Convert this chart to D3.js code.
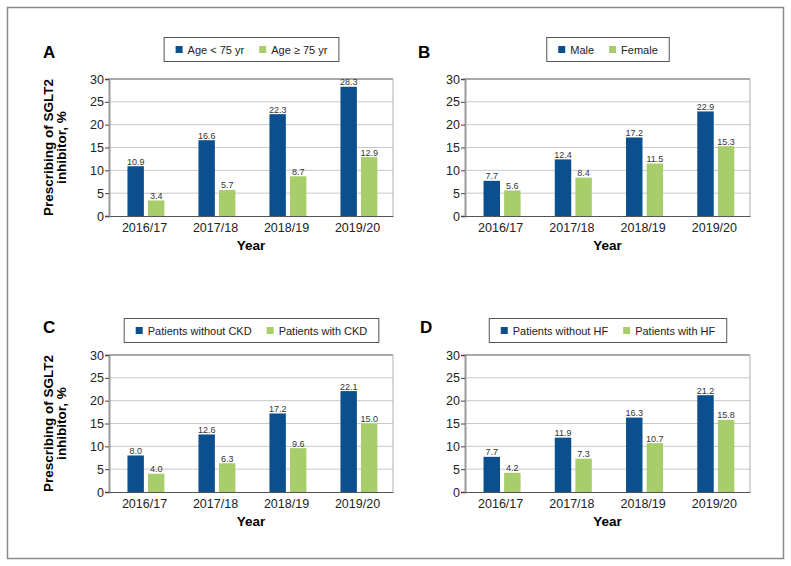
<!DOCTYPE html>
<html><head><meta charset="utf-8">
<script src="https://cdn.jsdelivr.net/npm/d3@7/dist/d3.min.js"></script>
<style>body{margin:0;background:#fff}svg{display:block;font-family:"Liberation Sans",Arial,sans-serif}</style>
</head><body><svg id="c" width="791" height="566"></svg>
<script>
const categories = ["2016/17","2017/18","2018/19","2019/20"];
const yTicks = [0,5,10,15,20,25,30];
const ageUnder75 = [10.9,16.6,22.3,28.3];
const age75plus = [3.4,5.7,8.7,12.9];
const male = [7.7,12.4,17.2,22.9];
const female = [5.6,8.4,11.5,15.3];
const withoutCKD = [8.0,12.6,17.2,22.1];
const withCKD = [4.0,6.3,9.6,15.0];
const withoutHF = [7.7,11.9,16.3,21.2];
const withHF = [4.2,7.3,10.7,15.8];
const panelLetters = ["A","B","C","D"];
const legendLabels = [["Age < 75 yr","Age \u2265 75 yr"],["Male","Female"],["Patients without CKD","Patients with CKD"],["Patients without HF","Patients with HF"]];
const seriesValues = [[ageUnder75,age75plus],[male,female],[withoutCKD,withCKD],[withoutHF,withHF]];
const colors = ["#0b4f8f","#a8cd6b"];

const svg = d3.select("#c");
svg.append("rect").attr("x",7.5).attr("y",7.5).attr("width",776).attr("height",551)
  .attr("fill","none").attr("stroke","#8a8a8a").attr("stroke-width",1.5);

const layouts = [
  {x0:109,x1:393,yT:79,yB:216,legY:37,letX:43,letY:58,yTitle:true},
  {x0:465,x1:750,yT:79,yB:216,legY:37,letX:418,letY:58,yTitle:false},
  {x0:109,x1:393,yT:355,yB:492,legY:318,letX:43,letY:333,yTitle:true},
  {x0:465,x1:750,yT:355,yB:492,legY:318,letX:420,letY:333,yTitle:false}
];

layouts.forEach((L,pi)=>{
  const g = svg.append("g");
  const x = d3.scaleBand().domain(categories).range([L.x0,L.x1]).padding(0);
  const bw = x.bandwidth();
  const xs = d3.scaleBand().domain([0,1]).range([bw*0.26,bw*0.78]).paddingInner(0.2);
  const y = d3.scaleLinear().domain([0,30]).range([L.yB,L.yT]);
  g.selectAll(".grid").data(yTicks.filter(t=>t>0&&t<30)).join("line")
    .attr("x1",L.x0).attr("x2",L.x1).attr("y1",d=>y(d)).attr("y2",d=>y(d))
    .attr("stroke","#c8c8c8").attr("stroke-width",1);
  g.append("line").attr("x1",L.x0).attr("x2",L.x1).attr("y1",y(30)).attr("y2",y(30)).attr("stroke","#555").attr("stroke-width",1.2);
  g.append("line").attr("x1",L.x1).attr("x2",L.x1).attr("y1",y(30)).attr("y2",y(0)).attr("stroke","#b0b0b0").attr("stroke-width",1);
  seriesValues[pi].forEach((vals,si)=>{
    g.selectAll(".b"+si).data(vals).join("rect")
      .attr("x",(d,i)=>x(categories[i])+xs(si)).attr("width",xs.bandwidth())
      .attr("y",d=>y(d)).attr("height",d=>y(0)-y(d)).attr("fill",colors[si]);
    g.selectAll(".t"+si).data(vals).join("text")
      .attr("x",(d,i)=>x(categories[i])+xs(si)+xs.bandwidth()/2)
      .attr("y",d=>y(d)-1.5).attr("text-anchor","middle")
      .attr("font-size",9).attr("fill","#333").text(d=>d.toFixed(1));
  });
  const ya = d3.axisLeft(y).tickValues(yTicks).tickSize(4).tickPadding(1);
  const yg = g.append("g").attr("transform",`translate(${L.x0},0)`).call(ya);
  yg.select(".domain").attr("stroke","#999").attr("stroke-width",2);
  yg.selectAll(".tick line").attr("stroke","#444");
  yg.selectAll(".tick text").attr("font-size",12.5).attr("fill","#222").attr("font-family","Liberation Sans, Arial, sans-serif");
  const xa = d3.axisBottom(x).tickSize(0).tickPadding(7);
  const xg = g.append("g").attr("transform",`translate(0,${L.yB})`).call(xa);
  xg.select(".domain").attr("stroke","#555").attr("stroke-width",1.2);
  xg.selectAll(".tick text").attr("font-size",12.5).attr("fill","#222").attr("font-family","Liberation Sans, Arial, sans-serif");
  g.append("text").attr("x",(L.x0+L.x1)/2).attr("y",L.yB+34).attr("text-anchor","middle")
    .attr("font-weight","bold").attr("font-size",13.5).text("Year");
  if(L.yTitle){
    const cy=(L.yT+L.yB)/2;
    g.append("text").attr("transform",`translate(53,${cy}) rotate(-90)`).attr("text-anchor","middle")
      .attr("font-weight","bold").attr("font-size",13.5).text("Prescribing of SGLT2");
    g.append("text").attr("transform",`translate(66,${cy}) rotate(-90)`).attr("text-anchor","middle")
      .attr("font-weight","bold").attr("font-size",13.5).text("inhibitor, %");
  }
  g.append("text").attr("x",L.letX).attr("y",L.letY).attr("font-weight","bold").attr("font-size",17).text(panelLetters[pi]);
  const lg = g.append("g");
  const box = lg.append("rect").attr("fill","#fff").attr("stroke","#555").attr("stroke-width",1);
  const cyL = L.legY+12.5;
  let cx = 0;
  const items=[];
  legendLabels[pi].forEach((lab,si)=>{
    if(si>0) cx+=15;
    const sw = lg.append("rect").attr("width",7).attr("height",7).attr("y",cyL-3.5).attr("fill",colors[si]);
    const tx = lg.append("text").attr("font-size",11).attr("fill","#222").attr("y",cyL+4).text(lab);
    const tw = tx.node().getComputedTextLength();
    items.push({sw,tx,pos:cx});
    cx += 7 + 5 + tw;
  });
  const totalW = 12 + cx + 11;
  const left = (L.x0+L.x1)/2 - totalW/2;
  box.attr("x",left+0.5).attr("y",L.legY+0.5).attr("width",totalW).attr("height",24);
  items.forEach(it=>{
    it.sw.attr("x",left+12+it.pos);
    it.tx.attr("x",left+12+it.pos+12);
  });
});
</script></body></html>
